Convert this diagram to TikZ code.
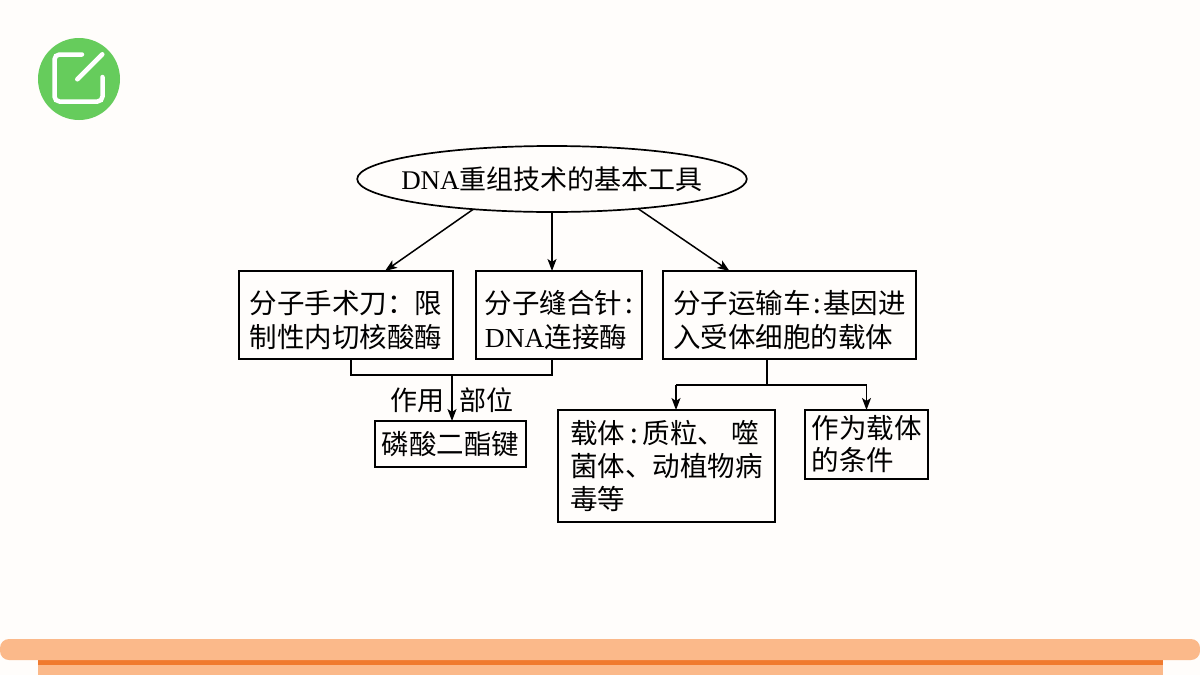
\documentclass[tikz,border=0pt]{standalone}
\usepackage{fontspec}
\setmainfont{Liberation Serif}
\newfontfamily\cjk{Noto Sans CJK SC}
\newfontfamily\latinf{Liberation Serif}
\usetikzlibrary{positioning}
\usetikzlibrary{calc}
\usetikzlibrary{arrows.meta}
\usetikzlibrary{shapes.geometric}
\definecolor{paper}{HTML}{FFFDFB}
\definecolor{badge}{HTML}{66CC5C}
\definecolor{band}{HTML}{FBB98A}
\definecolor{bandedge}{HTML}{F07A2E}
\newcommand{\dna}{{\latinf DNA}}
\newcommand{\lift}[1]{\rule{0pt}{#1}}
\tikzset{
b/.style={
  rectangle,
  inner sep=0pt,
  outer sep=0pt,
  align=left,
  draw=black,
  line width=1.7pt,
  font=\fontsize{27.5}{34}\selectfont\cjk
  },
lab/.style={
  inner sep=0pt,
  font=\fontsize{27}{34}\selectfont\cjk
  }
}
\begin{document}
\begin{tikzpicture}[x=1pt,y=-1pt,->,>={Stealth[length=12pt,width=9pt,inset=3pt]},line width=1.5pt]
            \useasboundingbox (0,0) rectangle (1200,675);
            % page
            \fill[paper] (0,0) rectangle (1200,675);
            \fill[band] (38,655) rectangle (1163,675);
            \fill[bandedge] (38,660) rectangle (1163,665);
            \fill[band,rounded corners=9pt] (0,639) rectangle (1200,660);
            % badge
            \fill[badge] (79,79) circle (41);
            \draw[-,white,line width=4.5pt,line cap=round,rounded corners=5pt]
            (82,54.5) -- (54.5,54.5) -- (54.5,101.5) -- (102.5,101.5) -- (102.5,77);
            \draw[-,white,line width=4.5pt,line cap=round] (102.3,54.3) -- (77.3,79.3);
            % boxes
            \node[b,ellipse,inner xsep=-13pt,minimum height=66pt,font=\fontsize{27}{34}\selectfont\cjk] (top) at (552,179) {\dna 重组技术的基本工具};
            \node[b,minimum width=166pt,minimum height=88pt] (lig)  [below=59pt of top,xshift=7pt] {\lift{34pt}分子缝合针\hspace{3pt}:\\\dna 连接酶};
            \node[b,minimum width=214pt,minimum height=88pt] (knife) [left=23pt of lig] {\lift{34pt}分子手术刀：限\\制性内切核酸酶};
            \node[b,minimum width=253pt,minimum height=88pt] (car)  [right=21pt of lig] {\lift{34pt}分子运输车\hspace{2.5pt}:\hspace{2.5pt}基因进\\入受体细胞的载体};
            \node[b,minimum width=151pt,minimum height=46pt] (bond) [below=62pt of knife.south east,xshift=-2.5pt] {磷酸二酯键};
            \node[b,minimum width=217pt,minimum height=112pt] (vec) [below=51pt of car.south west,xshift=3.5pt] {载体\hspace{5pt}:\hspace{5pt}质粒、\hspace{6pt}噬\\[-1pt]菌体、动植物病\\[-1pt]毒等};
            \node[b,minimum width=123pt,minimum height=69pt,anchor=north west] (cond) at ($(vec.north east)+(30,0)$) {作为载体\\[-2pt]的条件};
            % joints
            \coordinate (kn) at ($(knife.south)+(5,0)$);
            \coordinate (ln) at ($(lig.south)+(-7,0)$);
            \coordinate (jn) at ($(knife.south east)+(-1,16)$);
            \coordinate (cn) at ($(car.south)+(-22.5,0)$);
            \coordinate (hb) at ($(cn)+(0,26)$);
            \coordinate (vt) at ($(vec.north)+(9.5,0)$);
            \coordinate (vb) at ($(vt)+(0,-25)$);
            \coordinate (cb) at (hb -| cond.north);
            % labels
            \node[lab] (use)  at ($(jn)+(-35,25)$) {作用};
            \node[lab] (site) at ($(jn)+(34.5,25)$) {部位};
            \path[->]
            (top.201.8) edge ($(knife.north)+(39,0)$)
            ($(lig.north)+(-7,-59)$) edge ($(lig.north)+(-7,0)$)
            (top.-19.3) edge ($(car.north)+(-60,0)$)
            (jn) edge (jn |- bond.north)
            (vb) edge (vt)
            (cb) edge (cond.north)
            ;
            \draw[-] (kn) |- (jn) -| (ln);
            \draw[-] (cn) -- (hb);
            \draw[-] (vb) -- (cb);
        \end{tikzpicture}
\end{document}
